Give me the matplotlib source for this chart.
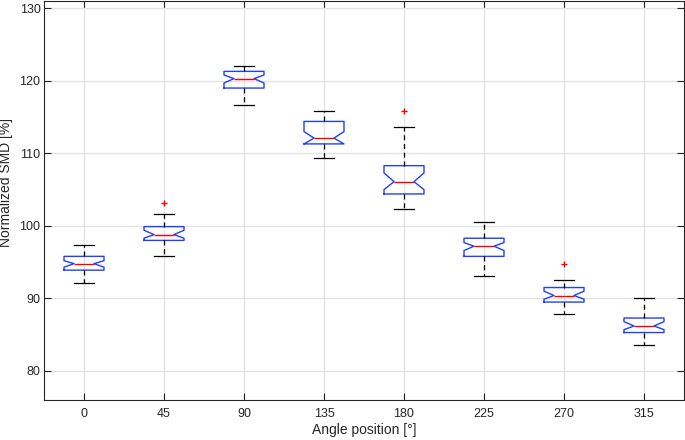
import matplotlib
matplotlib.use("Agg")
import matplotlib.pyplot as plt
import numpy as np

plt.rcParams['font.family'] = ['Liberation Sans', 'DejaVu Sans']

# values (normalized SMD in %)
angles = ['0', '45', '90', '135', '180', '225', '270', '315']
whis_hi = [97.4, 101.7, 122.1, 115.9, 113.6, 100.5, 92.5, 90.1]
q3 = [95.8, 99.9, 121.3, 114.4, 108.3, 98.3, 91.5, 87.3]
ci_hi = [95.2, 99.4, 120.8, 113.0, 107.3, 97.7, 91.0, 86.8]
median = [94.8, 98.8, 120.3, 112.1, 106.1, 97.2, 90.4, 86.2]
ci_lo = [94.3, 98.3, 119.7, 111.3, 105.0, 96.6, 89.9, 85.7]
q1 = [93.9, 98.0, 119.0, 111.3, 104.4, 95.8, 89.5, 85.3]
whis_lo = [92.1, 95.8, 116.6, 109.3, 102.3, 93.1, 87.8, 83.6]
outliers = [[], [103.1], [], [], [115.8], [], [94.7], []]

stats = []
for i in range(len(angles)):
    stats.append(dict(med=median[i], q1=q1[i], q3=q3[i],
                      whislo=whis_lo[i], whishi=whis_hi[i],
                      cilo=ci_lo[i], cihi=ci_hi[i],
                      fliers=np.array(outliers[i])))

fig = plt.figure(figsize=(6.85, 4.4), dpi=100)
ax = fig.add_axes([44 / 685, 40 / 440, 640 / 685, 399 / 440])

ax.bxp(stats, positions=np.arange(1, 9), widths=0.5, capwidths=0.25,
       shownotches=True, patch_artist=False,
       boxprops=dict(color='#1f3fff', linewidth=1.0),
       medianprops=dict(color='red', linewidth=1.0),
       whiskerprops=dict(color='black', linestyle=(0, (4, 3)), linewidth=0.9),
       capprops=dict(color='black', linewidth=0.9),
       flierprops=dict(marker='+', markeredgecolor='red', markersize=5,
                       linestyle='none'))

ax.set_xlim(0.5, 8.5)
ax.set_ylim(76, 131)
ax.set_xticks(np.arange(1, 9))
ax.set_xticklabels(angles)
ax.set_yticks(np.arange(80, 131, 10))

ax.grid(True, color='#e3e3e3', linewidth=1.0)
ax.set_axisbelow(True)
ax.tick_params(direction='in', length=5, width=0.8, top=True, right=True,
               labelsize=9, colors='#262626')
ax.tick_params(axis='x', pad=6)
ax.tick_params(axis='y', pad=2.5)
for sp in ax.spines.values():
    sp.set_color('#262626')
    sp.set_linewidth(0.8)

ax.set_xlabel('Angle position [°]', fontsize=10, color='#262626', labelpad=2)
ax.set_ylabel('Normalized SMD [%]', fontsize=10, color='#262626')
ax.yaxis.set_label_coords(-0.048, 0.545)

fig.savefig('out.png', dpi=100)
